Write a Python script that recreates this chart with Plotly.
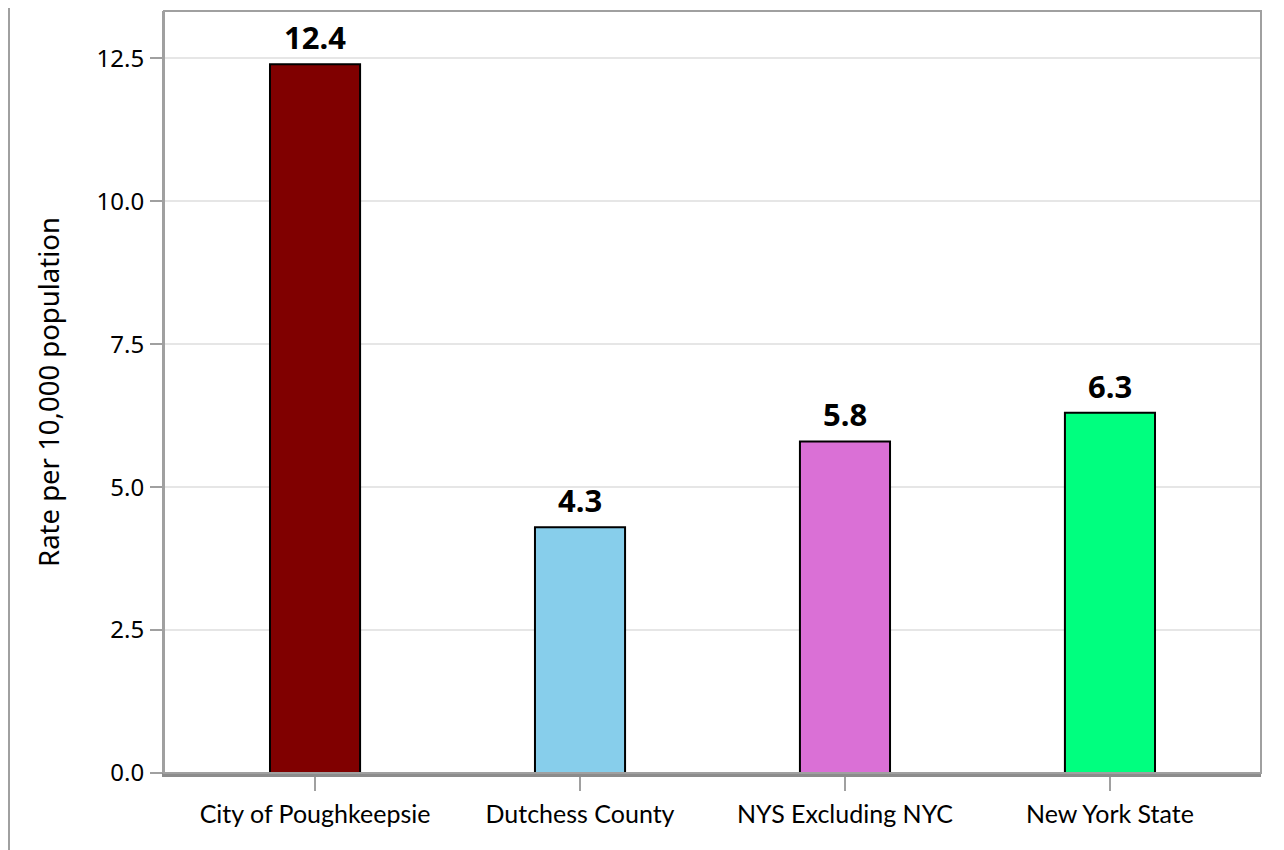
import plotly.graph_objects as go

categories = ["City of Poughkeepsie", "Dutchess County", "NYS Excluding NYC", "New York State"]
rates = [12.4, 4.3, 5.8, 6.3]
bar_colors = ["#800000", "#87CEEB", "#DA70D6", "#00FF7F"]
y_tick_vals = [0.0, 2.5, 5.0, 7.5, 10.0, 12.5]
y_tick_text = ["0.0", "2.5", "5.0", "7.5", "10.0", "12.5"]
y_title = "Rate per 10,000 population"

FRAME = "#a0a0a0"

fig = go.Figure()
fig.add_trace(go.Bar(
    x=categories,
    y=rates,
    width=0.34,
    marker=dict(color=bar_colors, line=dict(color="#000000", width=2)),
    hoverinfo="x+y",
))

annotations = [
    dict(x=c, y=v, xref="x", yref="y", text=f"<b>{v:.1f}</b>", showarrow=False,
         yanchor="bottom", yshift=4,
         font=dict(family="Noto Sans", size=31, color="#000000"))
    for c, v in zip(categories, rates)
]

fig.update_layout(
    width=1284,
    height=850,
    margin=dict(l=156, r=31, t=3, b=85),
    paper_bgcolor="white",
    plot_bgcolor="white",
    showlegend=False,
    font=dict(family="Noto Sans", color="#000000"),
    annotations=annotations,
    xaxis=dict(
        type="category",
        range=[-0.57, 3.57],
        showgrid=False,
        showline=True,
        linecolor="#8c8c8c",
        linewidth=4,
        ticks="outside",
        ticklen=14,
        tickwidth=2,
        tickcolor=FRAME,
        tickfont=dict(family="Lato", size=25, color="#000000"),
        ticklabelstandoff=2,
        zeroline=False,
    ),
    yaxis=dict(
        range=[0, 13.33],
        tickvals=y_tick_vals,
        ticktext=y_tick_text,
        showgrid=True,
        gridcolor="#e6e6e6",
        gridwidth=2,
        showline=True,
        linecolor=FRAME,
        linewidth=2,
        ticks="outside",
        ticklen=12,
        tickwidth=2,
        tickcolor=FRAME,
        tickfont=dict(family="Noto Sans", size=24, color="#000000"),
        ticklabelstandoff=1,
        zeroline=False,
        title=dict(text=y_title, font=dict(family="Noto Sans", size=27.5, color="#000000"), standoff=29),
    ),
    shapes=[
        dict(type="rect", xref="paper", yref="paper", x0=0, x1=1, y0=0, y1=1,
             line=dict(color=FRAME, width=2), layer="above"),
        dict(type="line", xref="paper", yref="paper", x0=-0.1413, x1=-0.1413, y0=-0.2, y1=1.1,
             line=dict(color=FRAME, width=2)),
        dict(type="line", xref="paper", yref="paper", x0=1.0191, x1=1.0191, y0=-0.2, y1=1.1,
             line=dict(color=FRAME, width=2)),
    ],
)

fig.write_html("out.html")
